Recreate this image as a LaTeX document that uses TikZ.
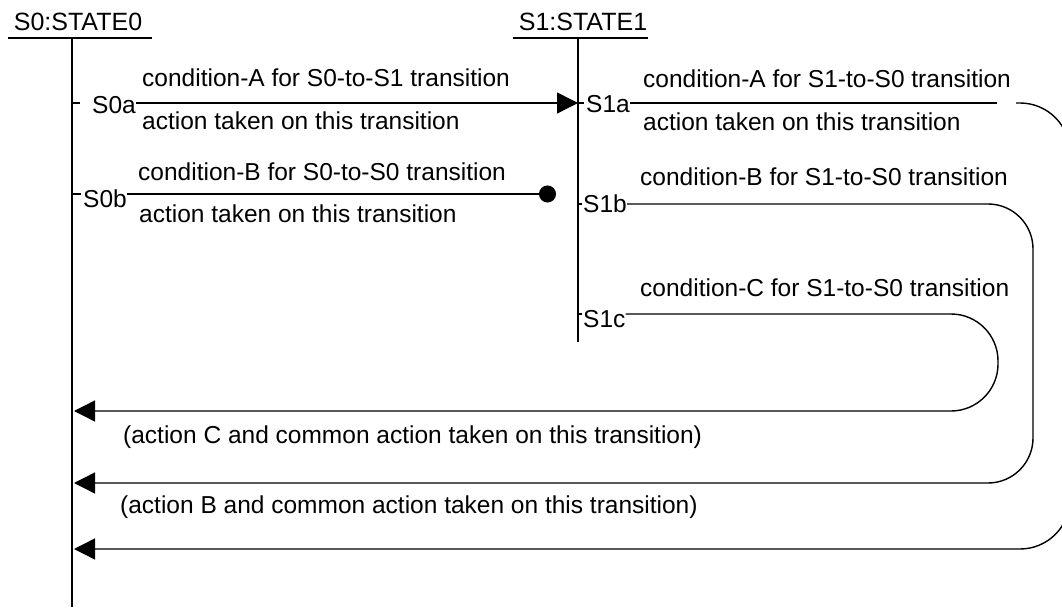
\documentclass[tikz,border=0pt]{standalone}
\usepackage{fontspec}
\setmainfont{Liberation Sans}
\usetikzlibrary{arrows.meta,positioning,calc}

\begin{document}
\begin{tikzpicture}[x=1pt, y=-1pt,
    txt/.style={anchor=base west, inner sep=0pt,
                font=\fontsize{24.5}{28}\selectfont},
    head/.style={anchor=base, inner sep=0pt,
                 font=\fontsize{25}{28}\selectfont},
    life/.style={line width=1.8pt},
    msg/.style={line width=1.4pt},
    arrow/.style={msg, -{Triangle[length=21pt,width=21pt]}},
    dotend/.style={msg, -{Circle[length=17pt]}}
]
\useasboundingbox (0,0) rectangle (1062,609);
\clip (0,0) rectangle (1062,609);

% lifelines
\node[head] (st0) at (78,31)  {S0:STATE0};
\node[head] (st1) at (583,31) {S1:STATE1};
\draw[msg] (8,38) -- (152,38);
\draw[msg] (513,38) -- (648,38);
\coordinate (s0top) at (72,38);
\coordinate (s0bot) at (72,607);
\coordinate (s1top) at (578,38);
\coordinate (s1bot) at (578,342);
\draw[life] (s0top) -- (s0bot);
\draw[life] (s1top) -- (s1bot);

% sub-states
\node[txt] (s0a) at (92,114)  {S0a};
\node[txt] (s0b) at (83,208)  {S0b};
\node[txt] (s1a) at (586,113) {S1a};
\node[txt] (s1b) at (583,213) {S1b};
\node[txt] (s1c) at (583,327) {S1c};
\draw[msg] (72,103) -- (80,103);
\draw[msg] (72,194) -- (81,194);
\draw[msg] (578,103) -- (584,103);
\draw[msg] (578,204) -- (582,204);
\draw[msg] (578,314) -- (582,314);

% labels
\node[txt] (condA0) at (142,87)  {condition-A for S0-to-S1 transition};
\node[txt] (actA0)  at (142,130) {action taken on this transition};
\node[txt] (condB0) at (138,181) {condition-B for S0-to-S0 transition};
\node[txt] (actB0)  at (139,223) {action taken on this transition};
\node[txt] (condA1) at (643,88)  {condition-A for S1-to-S0 transition};
\node[txt] (actA1)  at (643,131) {action taken on this transition};
\node[txt] (condB1) at (640,186) {condition-B for S1-to-S0 transition};
\node[txt] (condC1) at (640,297) {condition-C for S1-to-S0 transition};
\node[txt] (actC)   at (123,443) {(action C and common action taken on this transition)};
\node[txt] (actB)   at (120,513) {(action B and common action taken on this transition)};

% transitions
\coordinate (a0) at (s0a.east |- 0,103);
\coordinate (a1) at (578,103);
\coordinate (b0) at (s0b.east |- 0,194);
\coordinate (b1) at (556,194);
\draw[arrow] (a0) -- (a1);
\draw[dotend] (b0) -- (b1);

\coordinate (c0) at (s1a.east |- 0,103);
\coordinate (c1) at (997,103);
\coordinate (c2) at (1016,103);
\coordinate (endA) at (74,549);
\coordinate (endB) at (74,483);
\coordinate (endC) at (74,411);
\draw[msg] (c0) -- (c1);
\draw[arrow, rounded corners=50pt] (c2) -- (1070,103) -- (1070,549) -- (endA);
\draw[arrow, rounded corners=45pt] (s1b.east |- 0,204) -- (1033,204) -- (1033,483) -- (endB);
\draw[arrow, rounded corners=47pt] (s1c.east |- 0,314) -- (998,314) -- (998,411) -- (endC);
\end{tikzpicture}
\end{document}
